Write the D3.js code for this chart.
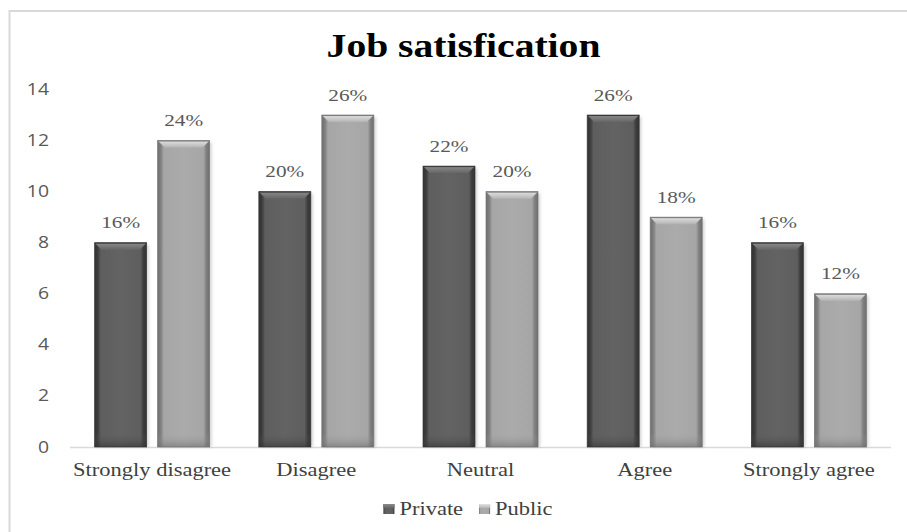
<!DOCTYPE html>
<html><head><meta charset="utf-8">
<script src="https://cdn.jsdelivr.net/npm/d3@7"></script>
<style>body{margin:0;background:#fff}svg{display:block}</style>
</head><body>
<svg id="c" width="907" height="532"></svg>
<script>
const categories = ["Strongly disagree","Disagree","Neutral","Agree","Strongly agree"];
const seriesNames = ["Private","Public"];
const privateValues = [8,10,11,13,8];
const publicValues = [12,13,10,9,6];
const privateLabels = ["16%","20%","22%","26%","16%"];
const publicLabels = ["24%","26%","20%","18%","12%"];
const yTicks = [0,2,4,6,8,10,12,14];
const titleText = "Job satisfication";

const svg = d3.select("#c");
const SX = 1.25; // horizontal text stretch seen in the picture
const serif = "'Liberation Serif','Times New Roman',serif";
const sans = "'Open Sans','Liberation Sans',sans-serif";

// palette per series
const pal = {
  Private:{edge:"#333333", body:"#5e5e5e", mid:"#636363", top1:"#8c8c8c", top2:"#666666", dark:"#3c3c3c"},
  Public:{edge:"#707070", body:"#a6a6a6", mid:"#ababab", top1:"#e2e2e2", top2:"#b4b4b4", dark:"#7e7e7e"}
};

const defs = svg.append("defs");
seriesNames.forEach(s=>{
  const p = pal[s];
  const g = defs.append("linearGradient").attr("id","body"+s).attr("x1","0").attr("x2","1").attr("y1","0").attr("y2","0");
  [[0,p.edge],[0.06,p.dark],[0.12,p.body],[0.5,p.mid],[0.88,p.body],[0.94,p.dark],[1,p.edge]]
    .forEach(([o,c])=>g.append("stop").attr("offset",o).attr("stop-color",c));
  const t = defs.append("linearGradient").attr("id","top"+s).attr("x1","0").attr("x2","0").attr("y1","0").attr("y2","1");
  t.append("stop").attr("offset",0).attr("stop-color",p.top1);
  t.append("stop").attr("offset",1).attr("stop-color",p.top2);
  const b = defs.append("linearGradient").attr("id","bot"+s).attr("x1","0").attr("x2","0").attr("y1","0").attr("y2","1");
  b.append("stop").attr("offset",0).attr("stop-color",p.body).attr("stop-opacity",0);
  b.append("stop").attr("offset",1).attr("stop-color",p.edge).attr("stop-opacity",0.6);
});
const blur = defs.append("filter").attr("id","sh").attr("x","-20%").attr("y","-5%").attr("width","140%").attr("height","110%");
blur.append("feGaussianBlur").attr("stdDeviation",1.6);

// frame
svg.append("rect").attr("x",9.5).attr("y",11).attr("width",920).attr("height",540)
  .attr("fill","none").attr("stroke","#d9d9d9").attr("stroke-width",2);

const x0 = d3.scaleBand().domain(categories).range([70,891]).paddingInner(0).paddingOuter(0);
const bw = x0.bandwidth();
const x1 = d3.scaleBand().domain(seriesNames).range([bw/2-57.5, bw/2+57.5]).paddingInner(11/63).paddingOuter(0);
const y = d3.scaleLinear().domain([0,14]).range([447,89.5]);

// y tick labels
svg.append("g").selectAll("text").data(yTicks).join("text")
  .attr("transform",d=>`translate(49,${y(d)+5.5}) scale(${SX},1)`)
  .attr("text-anchor","end").attr("font-family",sans).attr("font-size",15.5).attr("fill","#595959")
  .text(d=>d);

// axis line
svg.append("line").attr("x1",x0.range()[0]).attr("x2",x0.range()[1]).attr("y1",y(0)+0.5).attr("y2",y(0)+0.5)
  .attr("stroke","#d9d9d9").attr("stroke-width",1.5);

const rows = categories.map((c,i)=>({cat:c, vals:[
  {s:"Private", v:privateValues[i], lab:privateLabels[i]},
  {s:"Public", v:publicValues[i], lab:publicLabels[i]}]}));

const groups = svg.append("g").selectAll("g").data(rows).join("g")
  .attr("transform",d=>`translate(${x0(d.cat)},0)`);

const bars = groups.selectAll("g.bar").data(d=>d.vals).join("g").attr("class","bar");
const w = x1.bandwidth();
const bv = 7, sv = 3;
// soft shadow
bars.append("rect").attr("x",d=>x1(d.s)+2).attr("y",d=>y(d.v)+2).attr("width",w).attr("height",d=>y(0)-y(d.v)-2)
  .attr("fill","#9a9a9a").attr("opacity",0.45).attr("filter","url(#sh)");
bars.append("rect").attr("x",d=>x1(d.s)).attr("y",d=>y(d.v)).attr("width",w).attr("height",d=>y(0)-y(d.v))
  .attr("fill",d=>`url(#body${d.s})`);
bars.append("rect").attr("x",d=>x1(d.s)).attr("y",d=>y(0)-14).attr("width",w).attr("height",14)
  .attr("fill",d=>`url(#bot${d.s})`);
bars.append("polygon")
  .attr("points",d=>{const x=x1(d.s), t=y(d.v);
    return [[x,t],[x+w,t],[x+w-bv,t+bv],[x+bv,t+bv]].map(p=>p.join(",")).join(" ");})
  .attr("fill",d=>`url(#top${d.s})`);
bars.append("line").attr("x1",d=>x1(d.s)).attr("x2",d=>x1(d.s)+w).attr("y1",d=>y(d.v)+0.5).attr("y2",d=>y(d.v)+0.5)
  .attr("stroke",d=>pal[d.s].dark).attr("stroke-width",1);
bars.append("rect").attr("x",d=>x1(d.s)).attr("y",d=>y(d.v)).attr("width",w).attr("height",d=>y(0)-y(d.v))
  .attr("fill","none").attr("stroke",d=>pal[d.s].edge).attr("stroke-width",0.8).attr("opacity",0.8);

// data labels
bars.append("text")
  .attr("transform",d=>`translate(${x1(d.s)+w/2},${y(d.v)-14.5}) scale(${SX},1)`)
  .attr("text-anchor","middle").attr("font-family",serif).attr("font-size",17).attr("fill","#595959")
  .text(d=>d.lab);

// category labels
svg.append("g").selectAll("text").data(categories).join("text")
  .attr("transform",d=>`translate(${x0(d)+bw/2},475.5) scale(${SX},1)`)
  .attr("text-anchor","middle").attr("font-family",serif).attr("font-size",18).attr("fill","#404040")
  .text(d=>d);

// title
svg.append("text").attr("transform",`translate(463.5,57) scale(1.2,1)`)
  .attr("text-anchor","middle").attr("font-family",serif).attr("font-weight","bold").attr("font-size",33).attr("fill","#000")
  .text(titleText);

// legend
const lg = svg.append("g");
const items = lg.selectAll("g").data(seriesNames).join("g");
items.append("rect").attr("width",11).attr("height",10).attr("y",-11).attr("fill",d=>`url(#body${d})`);
items.append("rect").attr("width",11).attr("height",4).attr("y",-11).attr("fill",d=>`url(#top${d})`);
items.append("text").attr("transform",`translate(16,0) scale(${SX},1)`)
  .attr("font-family",serif).attr("font-size",18).attr("fill","#404040").text(d=>d);
let cx = 0; const pos = [];
items.each(function(d){ const tw = d3.select(this).select("text").node().getComputedTextLength()*SX; pos.push(cx); cx += 16 + tw + 16; });
const total = cx - 16;
items.attr("transform",(d,i)=>`translate(${pos[i]},0)`);
lg.attr("transform",`translate(${468 - total/2},515)`);
</script>
</body></html>
